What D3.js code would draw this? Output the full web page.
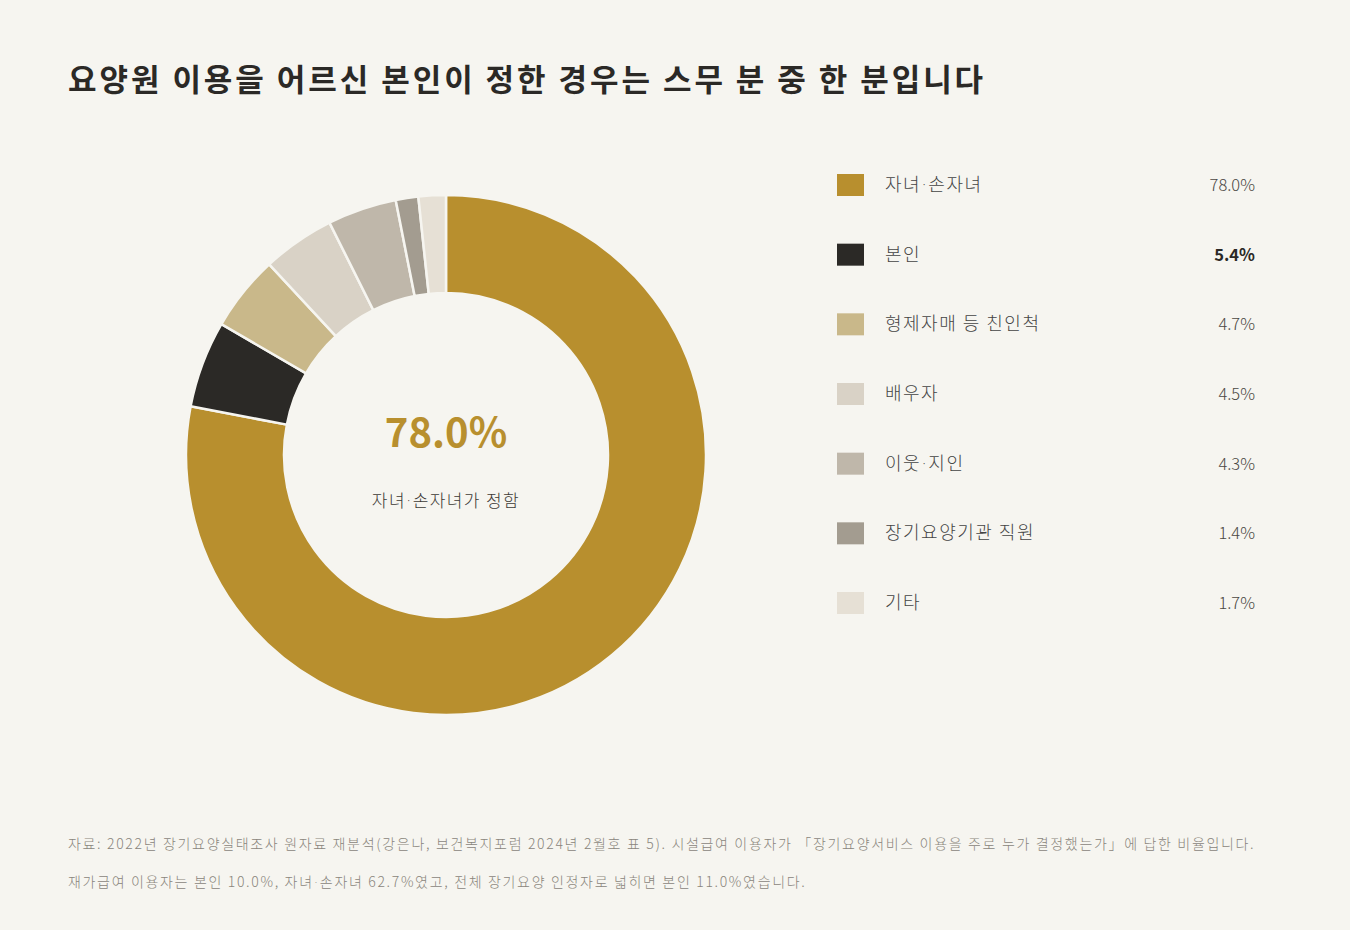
<!DOCTYPE html>
<html>
<head>
<meta charset="utf-8">
<script src="https://cdn.jsdelivr.net/npm/d3@7"></script>
<style>
  html, body { margin: 0; padding: 0; background: #f6f5f0; }
  svg { display: block; font-family: "Noto Sans CJK KR", "Noto Sans", sans-serif; }
  .dot { font-family: "DejaVu Sans", sans-serif; }
</style>
</head>
<body>
<svg id="chart" width="1350" height="930"></svg>
<script>
const categories = ["자녀·손자녀", "본인", "형제자매 등 친인척", "배우자", "이웃·지인", "장기요양기관 직원", "기타"];
const values = [78.0, 5.4, 4.7, 4.5, 4.3, 1.4, 1.7];
const colors = ["#b88f2e", "#2b2926", "#c9b88a", "#d9d2c6", "#bfb7aa", "#a39c90", "#e6e0d5"];
const highlight = "본인";

const BG = "#f6f5f0";
const svg = d3.select("#chart");

svg.append("rect").attr("width", 1350).attr("height", 930).attr("fill", BG);

// split on the middle dot so it can be set narrow like the original
function dotted(sel, str) {
  str.split("·").forEach((part, i) => {
    if (i > 0) sel.append("tspan").classed("dot", true).text("·");
    sel.append("tspan").text(part);
  });
}

// title
svg.append("text")
  .attr("x", 68).attr("y", 91)
  .attr("font-size", 31).attr("font-weight", 700)
  .attr("letter-spacing", 2.95)
  .attr("fill", "#2b2926")
  .text("요양원 이용을 어르신 본인이 정한 경우는 스무 분 중 한 분입니다");

// donut
const cx = 446, cy = 455;
const R = 260, r = 162;

const pie = d3.pie().sort(null).value(d => d.v);
const arc = d3.arc().innerRadius(r).outerRadius(R);
const data = categories.map((c, i) => ({ c: c, v: values[i], col: colors[i] }));

const g = svg.append("g").attr("transform", `translate(${cx},${cy})`);
g.selectAll("path")
  .data(pie(data))
  .enter()
  .append("path")
  .attr("d", arc)
  .attr("fill", d => d.data.col)
  .attr("stroke", BG)
  .attr("stroke-width", 2.5);

g.append("text")
  .attr("y", -8)
  .attr("text-anchor", "middle")
  .attr("font-size", 40).attr("font-weight", 700)
  .attr("fill", colors[0])
  .text(values[0].toFixed(1) + "%");

g.append("text")
  .attr("y", 52)
  .attr("text-anchor", "middle")
  .attr("font-size", 17).attr("font-weight", 300)
  .attr("letter-spacing", 1.4)
  .attr("fill", "#3d3a36")
  .call(s => dotted(s, categories[0] + "가 정함"));

// legend
const ly = d3.scalePoint().domain(categories).range([185, 603]);

const rows = svg.selectAll("g.row")
  .data(data)
  .enter()
  .append("g")
  .classed("row", true)
  .attr("transform", d => `translate(0,${ly(d.c)})`);

rows.append("rect")
  .attr("x", 837).attr("y", -11)
  .attr("width", 27).attr("height", 22)
  .attr("fill", d => d.col);

rows.append("text")
  .attr("x", 885).attr("y", 6)
  .attr("font-size", 18).attr("font-weight", 300)
  .attr("letter-spacing", 1.5)
  .attr("fill", "#444")
  .each(function(d) { dotted(d3.select(this), d.c); });

rows.append("text")
  .attr("x", 1255).attr("y", 6)
  .attr("text-anchor", "end")
  .attr("font-size", 16.5)
  .attr("font-weight", d => d.c === highlight ? 700 : 300)
  .attr("fill", d => d.c === highlight ? "#2b2926" : "#4a4743")
  .text(d => d.v.toFixed(1) + "%");

// notes
const notes = [
  "자료: 2022년 장기요양실태조사 원자료 재분석(강은나, 보건복지포럼 2024년 2월호 표 5). 시설급여 이용자가 「장기요양서비스 이용을 주로 누가 결정했는가」에 답한 비율입니다.",
  "재가급여 이용자는 본인 10.0%, 자녀·손자녀 62.7%였고, 전체 장기요양 인정자로 넓히면 본인 11.0%였습니다."
];
svg.selectAll("text.note")
  .data(notes)
  .enter()
  .append("text")
  .classed("note", true)
  .attr("x", 68)
  .attr("y", (d, i) => 849 + i * 38)
  .attr("font-size", 14).attr("font-weight", 300)
  .attr("letter-spacing", 1.67)
  .attr("fill", "#8a857c")
  .each(function(d) { dotted(d3.select(this), d); });
</script>
</body>
</html>
